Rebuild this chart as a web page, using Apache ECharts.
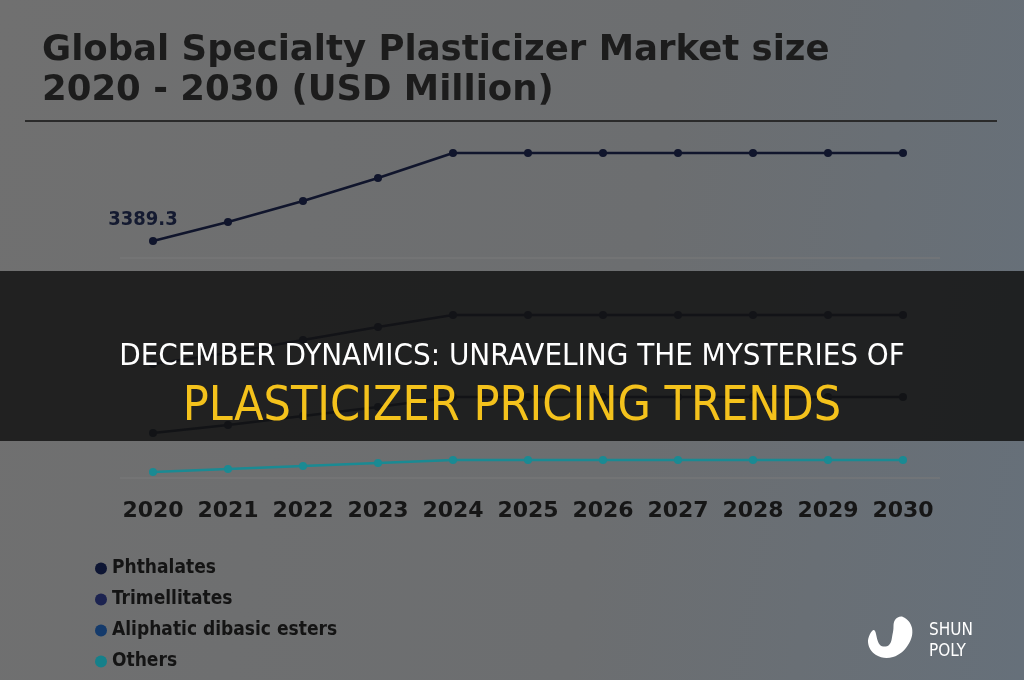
<!DOCTYPE html>
<html>
<head>
<meta charset="utf-8">
<script src="https://cdn.jsdelivr.net/npm/echarts@6/dist/echarts.min.js"></script>
<style>
  html, body { margin: 0; padding: 0; }
  #chart { width: 1024px; height: 680px; background: linear-gradient(100deg, #707070 0%, #6c6e70 60%, #66707a 100%); }
</style>
</head>
<body>
<div id="chart"></div>
<script>
let chart = echarts.init(document.getElementById('chart'));

let years = ['2020', '2021', '2022', '2023', '2024', '2025', '2026', '2027', '2028', '2029', '2030'];
// values in chart units (relative heights)
let phthalates = [239, 258, 279, 302, 327, 327, 327, 327, 327, 327, 327];
let trimellitates = [116, 127, 140, 153, 165, 165, 165, 165, 165, 165, 165];
let aliphatic = [47, 55, 64, 73, 83, 83, 83, 83, 83, 83, 83];
let others = [8, 11, 14, 17, 20, 20, 20, 20, 20, 20, 20];
let firstLabel = '3389.3';

function makeSeries(name, data, color) {
  return {
    name: name,
    type: 'line',
    data: data,
    symbol: 'circle',
    symbolSize: 8,
    lineStyle: { color: color, width: 2.5 },
    itemStyle: { color: color },
    z: 2
  };
}

let seriesList = [
  makeSeries('Phthalates', phthalates.map((v, i) => i === 0 ? {
    value: v,
    label: { show: true, formatter: firstLabel, position: 'top', color: '#141a30', fontSize: 20, fontWeight: 'bold',
      fontFamily: 'DejaVu Sans Condensed', offset: [-10, -2] }
  } : v), '#10152c'),
  makeSeries('Trimellitates', trimellitates, '#161a33'),
  makeSeries('Aliphatic dibasic esters', aliphatic, '#141c30'),
  makeSeries('Others', others, '#1a8a93')
];

let options = {
  backgroundColor: 'transparent',
  animation: false,
  title: {
    text: 'Global Specialty Plasticizer Market size\n2020 - 2030 (USD Million)',
    left: 37,
    top: 26,
    textStyle: { color: '#1c1c1c', fontSize: 35.5, fontWeight: 'bold', fontFamily: 'DejaVu Sans', lineHeight: 40 }
  },
  legend: {
    orient: 'vertical',
    left: 90,
    top: 554,
    itemGap: 12,
    icon: 'circle',
    itemWidth: 12,
    itemHeight: 12,
    data: [
      { name: 'Phthalates', itemStyle: { color: '#0d1533' } },
      { name: 'Trimellitates', itemStyle: { color: '#1c2350' } },
      { name: 'Aliphatic dibasic esters', itemStyle: { color: '#143a6b' } },
      { name: 'Others', itemStyle: { color: '#15808a' } }
    ],
    textStyle: { color: '#141414', fontSize: 19, fontWeight: 'bold', fontFamily: 'DejaVu Sans Condensed' }
  },
  grid: { left: 153, right: 121, top: 140, bottom: 200 },
  xAxis: {
    type: 'category',
    data: years,
    boundaryGap: false,
    axisLine: { show: false },
    axisTick: { show: false },
    axisLabel: { interval: 0, margin: 20, color: '#161616', fontSize: 22, fontWeight: 'bold', fontFamily: 'DejaVu Sans' }
  },
  yAxis: {
    type: 'value',
    min: 0,
    max: 340,
    show: false
  },
  series: seriesList,
  graphic: [
    { type: 'line', shape: { x1: 25, y1: 121, x2: 997, y2: 121 }, style: { stroke: '#2a2a2a', lineWidth: 2 } },
    { type: 'line', shape: { x1: 120, y1: 258, x2: 940, y2: 258 }, style: { stroke: '#7a7a7a', lineWidth: 1 } },
    { type: 'line', shape: { x1: 120, y1: 478, x2: 940, y2: 478 }, style: { stroke: '#7a7a7a', lineWidth: 1 } },
    { type: 'rect', z: 100, shape: { x: 0, y: 271, width: 1024, height: 170 }, style: { fill: 'rgba(18,18,18,0.84)' } },
    { type: 'text', z: 101, x: 512, y: 357, style: { text: 'DECEMBER DYNAMICS: UNRAVELING THE MYSTERIES OF',
      fill: '#ffffff', fontSize: 31, fontFamily: 'DejaVu Sans Condensed', align: 'center', verticalAlign: 'middle' } },
    { type: 'text', z: 101, x: 512, y: 408, style: { text: 'PLASTICIZER PRICING TRENDS',
      fill: '#f4c21c', fontSize: 48, fontFamily: 'DejaVu Sans Condensed', align: 'center', verticalAlign: 'middle' } },
    { type: 'polygon', z: 101, shape: { smooth: 0.4, points: [[903, 617], [912, 628], [908, 645], [893, 657], [876, 655], [868, 642], [874, 630], [880, 645], [889, 645], [893, 632], [895, 620]] },
      style: { fill: '#ffffff' } },
    { type: 'text', z: 101, x: 929, y: 620, style: { text: 'SHUN\nPOLY', fill: '#ffffff', fontSize: 17,
      lineHeight: 21, fontFamily: 'DejaVu Sans Condensed' } }
  ]
};

chart.setOption(options);
</script>
</body>
</html>
